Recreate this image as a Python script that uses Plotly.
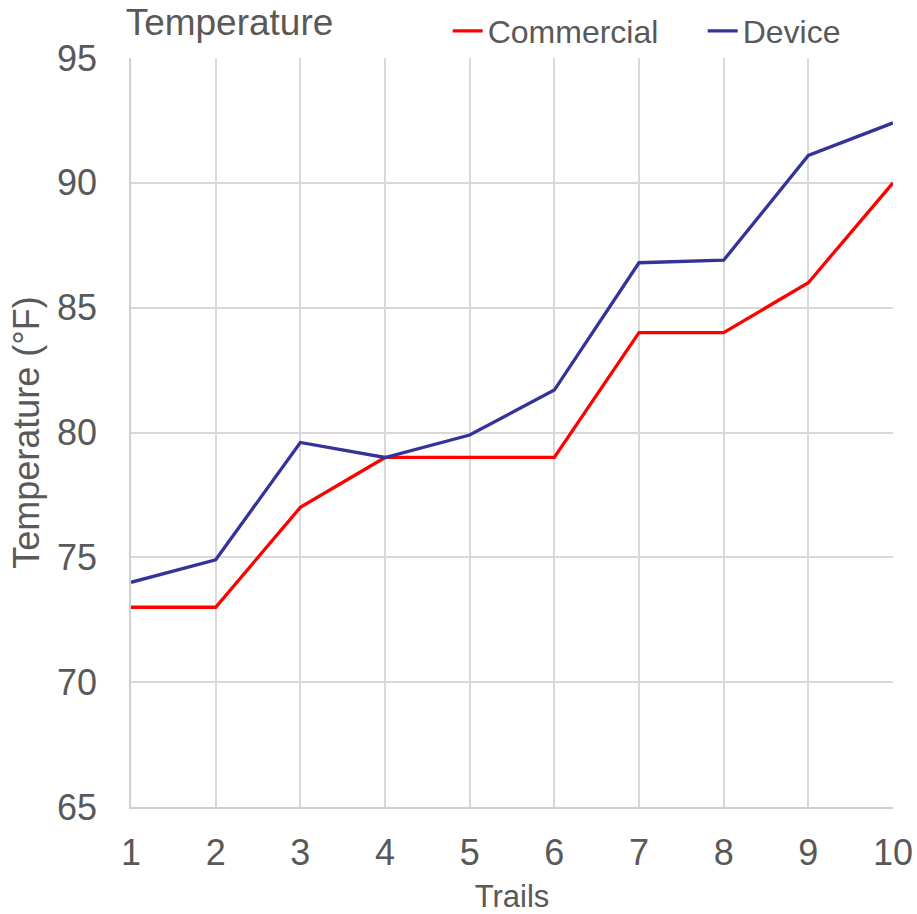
import plotly.graph_objects as go

trials = [1, 2, 3, 4, 5, 6, 7, 8, 9, 10]
commercial = [73, 73, 77, 79, 79, 79, 84, 84, 86, 90]
device = [74.0, 74.9, 79.6, 79.0, 79.9, 81.7, 86.8, 86.9, 91.1, 92.4]

fig = go.Figure()
fig.add_trace(go.Scatter(x=trials, y=commercial, mode="lines", name="Commercial",
                         line=dict(color="#ff0000", width=3.3)))
fig.add_trace(go.Scatter(x=trials, y=device, mode="lines", name="Device",
                         line=dict(color="#333399", width=3.3)))

font = "Liberation Sans, Arial, sans-serif"
grey = "#595959"
fig.update_layout(
    width=917, height=914,
    paper_bgcolor="white", plot_bgcolor="white",
    margin=dict(l=131, r=24, t=58, b=107, autoexpand=False),
    font=dict(family=font, color=grey),
    title=dict(text="Temperature", x=0.137, xanchor="left", y=0.976, yanchor="middle",
               font=dict(size=37, color=grey)),
    legend=dict(orientation="h", x=0.4156, xanchor="left", y=1.036, yanchor="middle",
                font=dict(size=32, color=grey), bgcolor="rgba(0,0,0,0)",
                entrywidth=210, tracegroupgap=0),
    xaxis=dict(range=[1, 10], tickvals=trials, showgrid=True, gridcolor="#d9d9d9",
               gridwidth=1.5, zeroline=False, showline=True, linecolor="#cfcfcf",
               linewidth=1.5, ticklabelstandoff=13, automargin=False,
               tickfont=dict(size=36, color=grey),
               title=dict(text="Trails", font=dict(size=31, color=grey), standoff=20)),
    yaxis=dict(range=[65, 95], dtick=5, showgrid=True, gridcolor="#d9d9d9",
               gridwidth=1.5, zeroline=False, showline=True, linecolor="#cfcfcf",
               linewidth=1.5, ticklabelstandoff=25, automargin=False,
               tickfont=dict(size=36, color=grey),
               title=dict(text="Temperature (°F)", font=dict(size=36, color=grey), standoff=6)),
)
fig.write_html("out.html", config={"displayModeBar": False},
               post_script="document.body.style.margin='0';")
